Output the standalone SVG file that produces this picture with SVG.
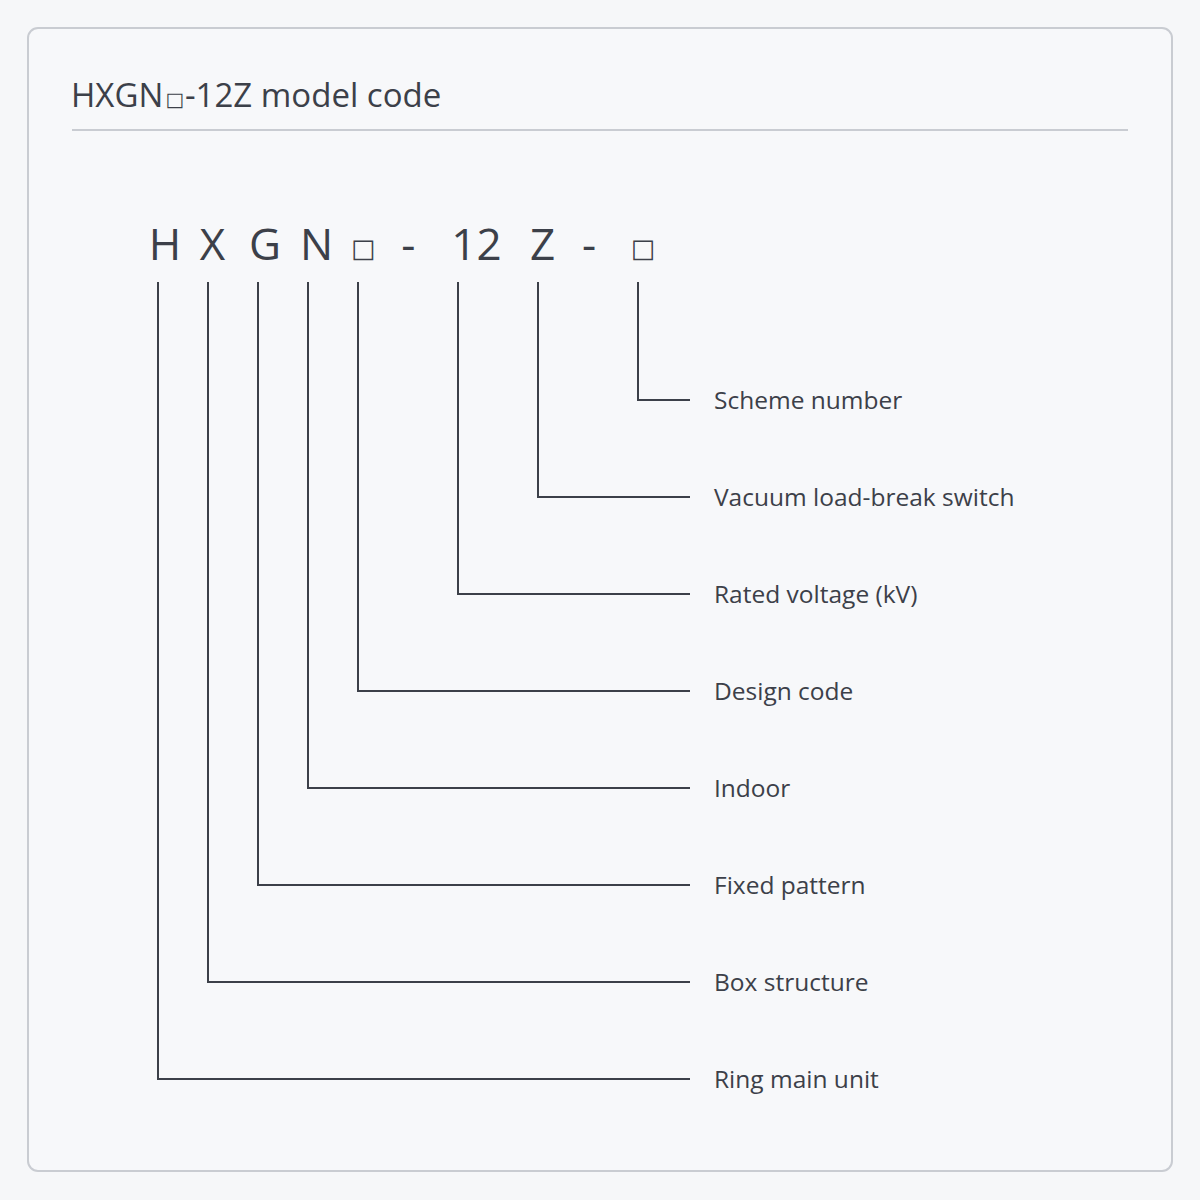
<svg xmlns="http://www.w3.org/2000/svg" width="1200" height="1200" viewBox="0 0 1200 1200">
<style>
.t{font-family:"Open Sans","Noto Sans","Liberation Sans",sans-serif;fill:#3c4049}
.code{font-size:44px;text-anchor:middle}
.box{font-family:"DejaVu Sans",sans-serif}
.code.box{font-size:25.8px}
.lbl{font-size:24.5px}
.ln{fill:none;stroke:#3c4049;stroke-width:2}
</style>
<rect width="1200" height="1200" fill="#f6f7f9"/>
<rect x="28" y="28" width="1144" height="1143" rx="10" fill="#f7f8fa" stroke="#c9ccd2" stroke-width="2"/>
<g id="title">
<text class="t" y="106.5" font-size="33"><tspan x="71">HXGN</tspan><tspan class="box" x="165.5" y="105.8" font-size="19.5">□</tspan><tspan x="185" y="106.5">-12Z model code</tspan></text>
<line x1="72" y1="130" x2="1128" y2="130" stroke="#c9ccd2" stroke-width="2"/>
</g>
<g id="code">
<text class="t code" x="165" y="260">H</text>
<text class="t code" x="212.5" y="260">X</text>
<text class="t code" x="265" y="260">G</text>
<text class="t code" x="316.5" y="260">N</text>
<text class="t code box" x="363.3" y="256.5">□</text>
<text class="t code" x="408.3" y="260">-</text>
<text class="t code" x="476.5" y="260">12</text>
<text class="t code" x="542.5" y="260">Z</text>
<text class="t code" x="589" y="260">-</text>
<text class="t code box" x="643" y="256.5">□</text>
</g>
<g id="connectors">
<path class="ln" d="M638 282V400H690"/>
<path class="ln" d="M538 282V497H690"/>
<path class="ln" d="M458 282V594H690"/>
<path class="ln" d="M358 282V691H690"/>
<path class="ln" d="M308 282V788H690"/>
<path class="ln" d="M258 282V885H690"/>
<path class="ln" d="M208 282V982H690"/>
<path class="ln" d="M158 282V1079H690"/>
</g>
<g id="label-scheme"><text class="t lbl" x="714" y="409">Scheme number</text></g>
<g id="label-switch"><text class="t lbl" x="714" y="506">Vacuum load-break switch</text></g>
<g id="label-voltage"><text class="t lbl" x="714" y="603">Rated voltage (kV)</text></g>
<g id="label-design"><text class="t lbl" x="714" y="700">Design code</text></g>
<g id="label-indoor"><text class="t lbl" x="714" y="797">Indoor</text></g>
<g id="label-fixed"><text class="t lbl" x="714" y="894">Fixed pattern</text></g>
<g id="label-box"><text class="t lbl" x="714" y="991">Box structure</text></g>
<g id="label-ring"><text class="t lbl" x="714" y="1088">Ring main unit</text></g>
</svg>
